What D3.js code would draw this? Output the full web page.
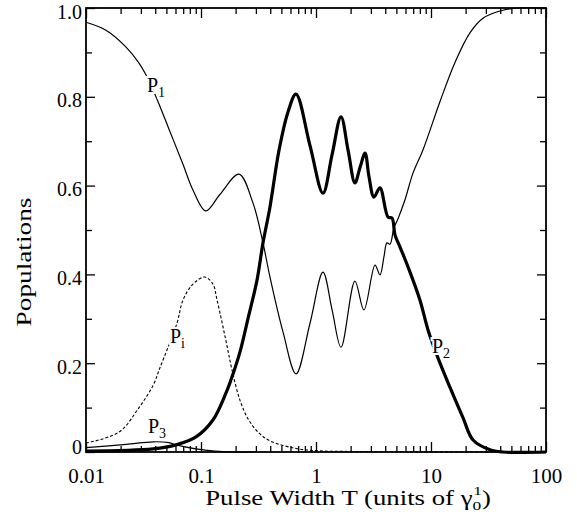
<!DOCTYPE html>
<html>
<head>
<meta charset="utf-8">
<script src="https://cdn.jsdelivr.net/npm/d3@7/dist/d3.min.js"></script>
<style>
  body { margin: 0; background: #fff; }
  text { font-family: "Liberation Serif", "Times New Roman", serif; fill: #000; }
</style>
</head>
<body>
<svg id="chart" width="577" height="516"></svg>
<script>
// values (T in units of 1/gamma0)
var tP1 = [0.01, 0.0149, 0.0223, 0.0289, 0.0333, 0.0406, 0.0527, 0.0697, 0.0851, 0.110, 0.146, 0.214, 0.283, 0.346, 0.398, 0.517, 0.670, 0.887, 1.15, 1.38, 1.65, 2.18, 2.61, 3.26, 3.60, 3.90, 4.14, 4.40, 4.76, 5.16, 5.94, 6.97, 8.51, 12.0, 16.2, 21.8, 28.3, 42.3, 59.4, 100];
var p1  = [0.968, 0.950, 0.912, 0.876, 0.849, 0.800, 0.727, 0.648, 0.590, 0.543, 0.580, 0.626, 0.561, 0.471, 0.394, 0.270, 0.176, 0.290, 0.405, 0.320, 0.236, 0.385, 0.320, 0.421, 0.399, 0.440, 0.471, 0.468, 0.505, 0.525, 0.568, 0.628, 0.680, 0.790, 0.878, 0.944, 0.977, 0.995, 1.0, 1.0];

var tP2 = [0.01, 0.0383, 0.0607, 0.0905, 0.127, 0.165, 0.182, 0.218, 0.256, 0.307, 0.346, 0.398, 0.477, 0.571, 0.670, 0.887, 1.15, 1.38, 1.65, 1.90, 2.18, 2.41, 2.67, 2.89, 3.19, 3.60, 4.23, 4.58, 4.86, 5.37, 6.31, 8.02, 9.42, 11.5, 14.6, 19.0, 23.2, 32.6, 42.3, 100];
var p2  = [0.002, 0.007, 0.016, 0.034, 0.072, 0.133, 0.162, 0.225, 0.300, 0.387, 0.471, 0.552, 0.680, 0.766, 0.806, 0.690, 0.583, 0.670, 0.755, 0.680, 0.606, 0.640, 0.673, 0.620, 0.574, 0.595, 0.529, 0.527, 0.489, 0.462, 0.417, 0.342, 0.275, 0.212, 0.146, 0.077, 0.027, 0.005, 0.0, 0.0];

var tPi = [0.01, 0.0194, 0.0289, 0.0383, 0.0440, 0.0618, 0.0697, 0.0851, 0.108, 0.127, 0.138, 0.165, 0.186, 0.218, 0.256, 0.313, 0.398, 0.670, 1.0, 2.41, 100];
var pI  = [0.020, 0.045, 0.100, 0.150, 0.190, 0.290, 0.342, 0.378, 0.394, 0.378, 0.342, 0.250, 0.185, 0.117, 0.075, 0.045, 0.025, 0.008, 0.003, 0.001, 0.0];

var tP3 = [0.01, 0.0223, 0.0383, 0.0527, 0.0607, 0.0905, 0.132, 0.2, 0.3];
var p3  = [0.010, 0.017, 0.023, 0.021, 0.016, 0.007, 0.002, 0.0, 0.0];

var xTicks = [0.01, 0.1, 1, 10, 100];
var xTickLabels = ["0.01", "0.1", "1", "10", "100"];
var yTicks = [0, 0.2, 0.4, 0.6, 0.8, 1.0];
var yTickLabels = ["0", "0.2", "0.4", "0.6", "0.8", "1.0"];

// curve labels: name, subscript, anchor (T, P)
var labelNames = ["P", "P", "P", "P"];
var labelSubs = ["1", "i", "3", "2"];
var labelT = [0.0339, 0.0537, 0.0346, 10.2];
var labelP = [0.811, 0.245, 0.043, 0.223];

var svg = d3.select("#chart"),
    margin = {top: 8, right: 31, bottom: 64, left: 86},
    width = +svg.attr("width") - margin.left - margin.right,
    height = +svg.attr("height") - margin.top - margin.bottom;

var g = svg.append("g").attr("transform", "translate(" + margin.left + "," + margin.top + ")");

var x = d3.scaleLog().domain([0.01, 100]).range([0, width]);
var y = d3.scaleLinear().domain([0, 1]).range([height, 0]);

// minor ticks
var xMinor = [];
xTicks.slice(0, -1).forEach(function(d) {
    for (var k = 2; k < 10; k++) xMinor.push(d * k);
});
var yMinor = [0.1, 0.3, 0.5, 0.7, 0.9];

function styleAxis(sel) {
    sel.attr("font-family", null).attr("font-size", null);
    sel.select(".domain").remove();
    sel.selectAll("line").attr("stroke", "#000").attr("stroke-width", 1.3);
}

var xAx = g.append("g").attr("transform", "translate(0," + height + ")")
    .call(d3.axisBottom(x).tickValues(xTicks).tickSizeInner(-10).tickSizeOuter(0).tickPadding(16)
        .tickFormat(function(d, i) { return xTickLabels[i]; }))
    .call(styleAxis);
xAx.selectAll("text").style("font-size", "21px");
g.append("g").attr("transform", "translate(0," + height + ")")
    .call(d3.axisBottom(x).tickValues(xMinor).tickSizeInner(-6).tickSizeOuter(0).tickFormat(""))
    .call(styleAxis);
g.append("g")
    .call(d3.axisTop(x).tickValues(xTicks).tickSizeInner(-10).tickSizeOuter(0).tickFormat(""))
    .call(styleAxis);
g.append("g")
    .call(d3.axisTop(x).tickValues(xMinor).tickSizeInner(-6).tickSizeOuter(0).tickFormat(""))
    .call(styleAxis);

var yAx = g.append("g")
    .call(d3.axisLeft(y).tickValues(yTicks).tickSizeInner(-9).tickSizeOuter(0).tickPadding(4)
        .tickFormat(function(d, i) { return yTickLabels[i]; }))
    .call(styleAxis);
// the "0" sits a little higher than the other labels in the original
yAx.selectAll("text")
    .style("font-size", "20px")
    .attr("dy", function(d) { return d === 0 ? "0.05em" : "0.5em"; });
g.append("g")
    .call(d3.axisLeft(y).tickValues(yMinor).tickSizeInner(-6).tickSizeOuter(0).tickFormat(""))
    .call(styleAxis);
g.append("g").attr("transform", "translate(" + width + ",0)")
    .call(d3.axisRight(y).tickValues(yTicks).tickSizeInner(-9).tickSizeOuter(0).tickFormat(""))
    .call(styleAxis);
g.append("g").attr("transform", "translate(" + width + ",0)")
    .call(d3.axisRight(y).tickValues(yMinor).tickSizeInner(-6).tickSizeOuter(0).tickFormat(""))
    .call(styleAxis);

// curves
function zip(ts, ps) {
    return ts.map(function(t, i) { return [t, ps[i]]; });
}
var line = d3.line()
    .x(function(d) { return x(d[0]); })
    .y(function(d) { return y(Math.max(0, d[1])); })
    .curve(d3.curveCatmullRom.alpha(0.5));

var series = [
    {data: zip(tPi, pI), w: 1.1, dash: "3,2"},
    {data: zip(tP3, p3), w: 1.2, dash: null},
    {data: zip(tP1, p1), w: 1.2, dash: null},
    {data: zip(tP2, p2), w: 3.2, dash: null}
];
g.selectAll(".curve").data(series).enter().append("path")
    .attr("class", "curve")
    .attr("fill", "none")
    .attr("stroke", "#000")
    .attr("stroke-width", function(d) { return d.w; })
    .attr("stroke-dasharray", function(d) { return d.dash; })
    .attr("d", function(d) { return line(d.data); });

// labels with a white halo so the curves break around them
var lab = g.selectAll(".clabel").data(labelNames).enter().append("text")
    .attr("class", "clabel")
    .attr("x", function(d, i) { return x(labelT[i]); })
    .attr("y", function(d, i) { return y(labelP[i]); })
    .style("font-size", "20px")
    .style("stroke", "#fff")
    .style("stroke-width", 4)
    .style("paint-order", "stroke");
lab.append("tspan").text(function(d) { return d; });
lab.append("tspan").attr("dy", 5).style("font-size", "14px")
    .text(function(d, i) { return labelSubs[i]; });

// frame
g.append("rect")
    .attr("width", width).attr("height", height)
    .attr("fill", "none").attr("stroke", "#000").attr("stroke-width", 1.8);

// axis titles (the original lettering is stretched along the text)
var xt = svg.append("text")
    .attr("transform", "translate(348,505) scale(1.34,1)")
    .attr("text-anchor", "middle")
    .style("font-size", "20px");
xt.append("tspan").text("Pulse Width T (units of \u03b3");
xt.append("tspan").attr("dy", 5).style("font-size", "13px").text("0");
xt.append("tspan").attr("dx", -6).attr("dy", -15).style("font-size", "13px").text("1");
xt.append("tspan").attr("dy", 10).text(")");

svg.append("text")
    .attr("transform", "translate(31,262) rotate(-90) scale(1.3,1)")
    .attr("text-anchor", "middle")
    .style("font-size", "21px")
    .text("Populations");
</script>
</body>
</html>
